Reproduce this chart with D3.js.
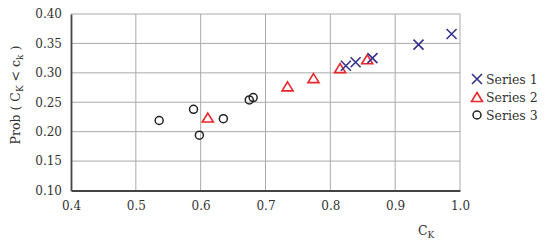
<!DOCTYPE html>
<html>
<head>
<meta charset="utf-8">
<script src="https://cdn.jsdelivr.net/npm/d3@7"></script>
<style>
  body { margin: 0; background: #fff; }
  svg { display: block; }
  text { font-family: "DejaVu Serif", "Liberation Serif", serif; fill: #333; }
</style>
</head>
<body>
<div id="chart"></div>
<script>
var xTicks = [0.4, 0.5, 0.6, 0.7, 0.8, 0.9, 1.0];
var yTicks = [0.10, 0.15, 0.20, 0.25, 0.30, 0.35, 0.40];

var series1X = [0.824, 0.839, 0.865, 0.936, 0.987];
var series1Y = [0.312, 0.318, 0.325, 0.348, 0.366];

var series2X = [0.611, 0.734, 0.774, 0.815, 0.857];
var series2Y = [0.224, 0.277, 0.291, 0.308, 0.323];

var series3X = [0.536, 0.589, 0.598, 0.635, 0.675, 0.681];
var series3Y = [0.219, 0.238, 0.194, 0.222, 0.254, 0.258];

var seriesNames = ["Series 1", "Series 2", "Series 3"];

var width = 550, height = 243;
// plot box (note: "top" is reserved on window, so use plot* names)
var plotLeft = 71, plotRight = 460, plotTop = 14, plotBottom = 190.5;

var svg = d3.select("#chart").append("svg")
	.attr("width", width)
	.attr("height", height);

var x = d3.scaleLinear().domain([0.4, 1.0]).range([plotLeft, plotRight]);
var y = d3.scaleLinear().domain([0.1, 0.4]).range([plotBottom, plotTop]);

// grid lines
svg.append("g").selectAll("line")
	.data(xTicks.slice(1))
	.enter().append("line")
	.attr("x1", function(d){ return x(d); })
	.attr("x2", function(d){ return x(d); })
	.attr("y1", plotTop)
	.attr("y2", plotBottom)
	.attr("stroke", "#aaa")
	.attr("stroke-width", 1);

svg.append("g").selectAll("line")
	.data(yTicks.slice(1))
	.enter().append("line")
	.attr("x1", plotLeft)
	.attr("x2", plotRight)
	.attr("y1", function(d){ return y(d); })
	.attr("y2", function(d){ return y(d); })
	.attr("stroke", "#aaa")
	.attr("stroke-width", 1);

// axes (no tick marks, only labels)
var xAxis = svg.append("g")
	.attr("transform", "translate(0," + plotBottom + ")")
	.call(d3.axisBottom(x).tickValues(xTicks).tickSize(0).tickPadding(11).tickFormat(d3.format(".1f")));
var yAxis = svg.append("g")
	.attr("transform", "translate(" + plotLeft + ",0)")
	.call(d3.axisLeft(y).tickValues(yTicks).tickSize(0).tickPadding(9).tickFormat(d3.format(".2f")));

[xAxis, yAxis].forEach(function(a) {
	a.select(".domain").attr("stroke", "#444").attr("stroke-width", 1.8);
	a.selectAll("text").attr("font-size", "12px").attr("fill", "#333")
		.attr("font-family", "\"DejaVu Serif\", serif");
});

// axis titles
var xTitle = svg.append("text")
	.attr("x", 418)
	.attr("y", 235)
	.attr("font-size", "12.5px");
xTitle.append("tspan").text("C");
xTitle.append("tspan").attr("font-size", "9px").attr("dy", 3).text("K");

var yTitle = svg.append("text")
	.attr("transform", "translate(20,95) rotate(-90)")
	.attr("text-anchor", "middle")
	.attr("font-size", "12.5px");
yTitle.append("tspan").text("Prob ( C");
yTitle.append("tspan").attr("font-size", "9px").attr("dy", 3).text("K");
yTitle.append("tspan").attr("dy", -3).text(" < c");
yTitle.append("tspan").attr("font-size", "9px").attr("dy", 3).text("k");
yTitle.append("tspan").attr("dy", -3).text(" )");

// markers
function drawCross(g, cx, cy, color) {
	var s = 5;
	g.append("path")
		.attr("d", "M" + (cx - s) + "," + (cy - s) + "L" + (cx + s) + "," + (cy + s) +
			"M" + (cx - s) + "," + (cy + s) + "L" + (cx + s) + "," + (cy - s))
		.attr("stroke", color)
		.attr("stroke-width", 1.6)
		.attr("fill", "none");
}

function drawTriangle(g, cx, cy, color) {
	var w = 5.5, h = 4.5;
	g.append("path")
		.attr("d", "M" + cx + "," + (cy - h) + "L" + (cx + w) + "," + (cy + h) + "L" + (cx - w) + "," + (cy + h) + "Z")
		.attr("stroke", color)
		.attr("stroke-width", 1.6)
		.attr("fill", "none");
}

function drawCircle(g, cx, cy, color) {
	g.append("circle")
		.attr("cx", cx)
		.attr("cy", cy)
		.attr("r", 4)
		.attr("stroke", color)
		.attr("stroke-width", 1.5)
		.attr("fill", "none");
}

var colors = ["#35318f", "#e8262b", "#222"];
var drawers = [drawCross, drawTriangle, drawCircle];
var allX = [series1X, series2X, series3X];
var allY = [series1Y, series2Y, series3Y];

var marks = svg.append("g");
for (var s = 2; s >= 0; s--) {
	for (var i = 0; i < allX[s].length; i++) {
		drawers[s](marks, x(allX[s][i]), y(allY[s][i]), colors[s]);
	}
}

// legend
var legend = svg.append("g");
for (var k = 0; k < seriesNames.length; k++) {
	var ly = 79 + k * 18;
	drawers[k](legend, 477, ly, colors[k]);
	legend.append("text")
		.attr("x", 486)
		.attr("y", ly + 4.5)
		.attr("font-size", "12.5px")
		.text(seriesNames[k]);
}
</script>
</body>
</html>
